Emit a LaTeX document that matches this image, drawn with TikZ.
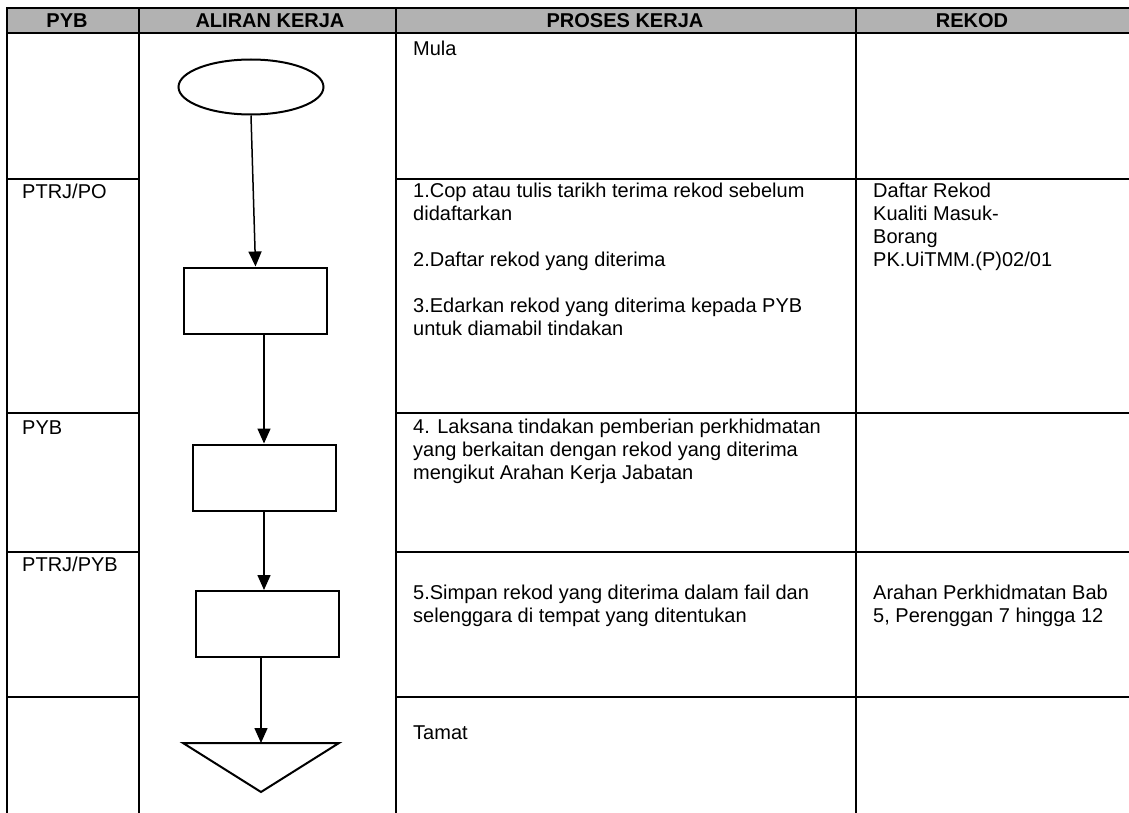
\documentclass[tikz,border=0pt]{standalone}
\usepackage{fontspec}
\setmainfont{Liberation Sans}
\usetikzlibrary{shapes.geometric,arrows.meta}

\begin{document}
\begin{tikzpicture} [
  x=1pt, y=-1pt,
  every node/.style={inner sep=0pt, font=\fontsize{20}{23}\selectfont},
  head/.style={font=\fontsize{20}{23}\selectfont\bfseries},
  cell/.style={anchor=north west, align=left},
  grid/.style={line width=1.6pt},
  box/.style={draw, rectangle, line width=2pt, minimum width=143pt, minimum height=66pt},
  flow/.style={line width=1.5pt, -{Triangle[length=15pt,width=13pt]}}
  ]
  \useasboundingbox (0,0) rectangle (1129,813);
  \fill[black!30] (7,8) rectangle (1129,33);
  \draw[grid] (1129,8) -- (7,8) -- (7,813);
  \draw[grid] (7,33) -- (1129,33);
  \draw[grid] (139,8) -- (139,813);
  \draw[grid] (396,8) -- (396,813);
  \draw[grid] (856,8) -- (856,813);
  \foreach \y in {179,413,552,697} {
    \draw[grid] (7,\y) -- (139,\y);
    \draw[grid] (396,\y) -- (1129,\y);
  }

  \node (h1) [head] at (67,21) {PYB};
  \node (h2) [head] at (270,21) {ALIRAN KERJA};
  \node (h3) [head] at (625,21) {PROSES KERJA};
  \node (h4) [head] at (972,21) {REKOD};

  \node (p1) [cell] at (22,184) {PTRJ/PO};
  \node (p2) [cell] at (22,421) {PYB};
  \node (p3) [cell] at (22,557) {PTRJ/PYB};

  \node (s0) [cell] at (413,41) {Mula};
  \node (s1) [cell] at (413,183) {1.Cop atau tulis tarikh terima rekod sebelum\\
    didaftarkan\\[23pt]
    2.Daftar rekod yang diterima\\[23pt]
    3.Edarkan rekod yang diterima kepada PYB\\
    untuk diamabil tindakan};
  \node (s2) [cell] at (413,419) {4. Laksana tindakan pemberian perkhidmatan\\
    yang berkaitan dengan rekod yang diterima\\
    mengikut Arahan Kerja Jabatan};
  \node (s3) [cell] at (413,585) {5.Simpan rekod yang diterima dalam fail dan\\
    selenggara di tempat yang ditentukan};
  \node (s4) [cell] at (413,726) {Tamat};

  \node (r1) [cell] at (873,183) {Daftar Rekod\\
    Kualiti Masuk-\\
    Borang\\
    PK.UiTMM.(P)02/01};
  \node (r2) [cell] at (873,585) {Arahan Perkhidmatan Bab\\
    5, Perenggan 7 hingga 12};

  \node (mula) [draw, ellipse, line width=2pt, minimum width=145pt, minimum height=55pt] at (251,87) {};
  \node (n1) [box] at (255.5,300.5) {};
  \node (n2) [box] at (264,477.5) {};
  \node (n3) [box] at (267.5,624) {};
  \coordinate (tamat) at (261,743);
  \draw[line width=2pt] (tamat) ++(-78,0) -- ++(156,0) -- ++(-78,49) -- cycle;

  \draw[flow] (mula.south) -- (n1.north);
  \draw[flow] (n1.south -| n2.north) -- (n2.north);
  \draw[flow] (n2.south) -- (n2.south |- n3.north);
  \draw[flow] (tamat |- n3.south) -- (tamat);
\end{tikzpicture}
\end{document}
